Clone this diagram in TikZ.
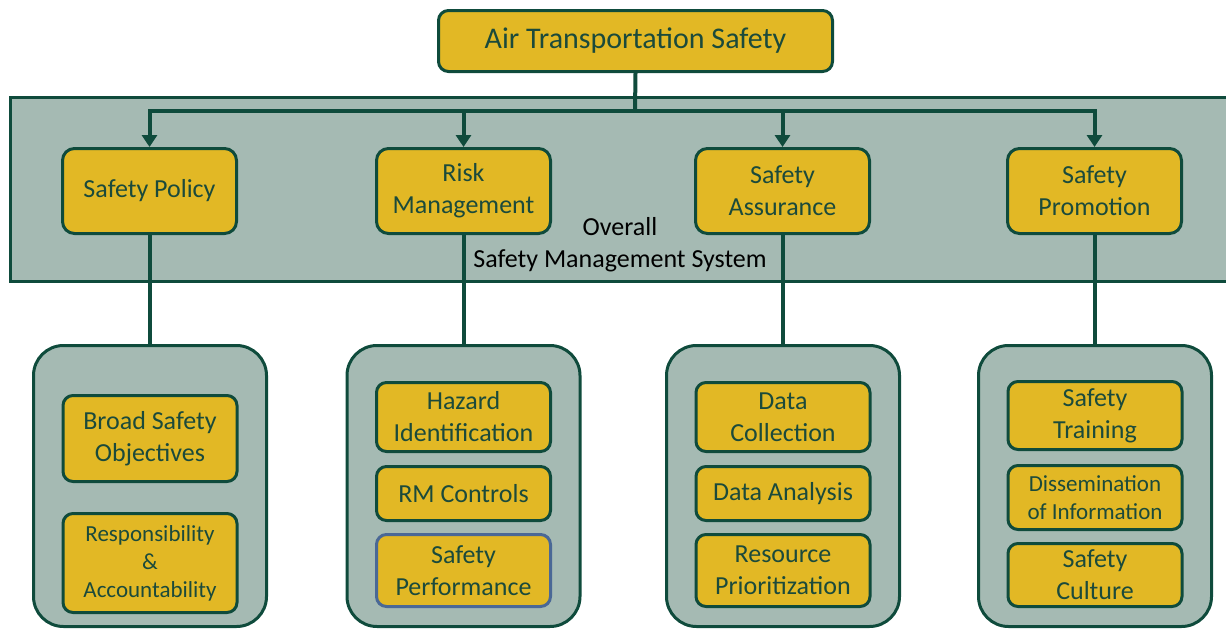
\documentclass[tikz,border=0pt]{standalone}
\usepackage{fontspec}
\setmainfont{Carlito}
\usetikzlibrary{arrows.meta}
\definecolor{gold}{HTML}{E2B825}
\definecolor{dkgreen}{HTML}{0F4B3C}
\definecolor{txtgreen}{HTML}{1B4A3B}
\definecolor{bandgray}{HTML}{A5BAB3}
\definecolor{perfblue}{HTML}{4A6896}
\tikzset{
  box/.style={draw=dkgreen, line width=3pt, fill=gold, rounded corners=12pt,
    text=txtgreen, align=center, inner sep=0pt, minimum width=174pt,
    font=\fontsize{26}{32}\selectfont},
  ibox/.style={box, rounded corners=10pt},
  small/.style={font=\fontsize{23}{28}\selectfont},
  grp/.style={draw=dkgreen, line width=3pt, fill=bandgray, rounded corners=30pt,
    minimum width=233pt, minimum height=281pt, inner sep=0pt},
  conn/.style={draw=dkgreen, line width=4pt},
  arr/.style={conn, -{Triangle[width=15pt,length=12pt]}},
  plain/.style={text=black, font=\fontsize{26}{32}\selectfont, inner sep=0pt, anchor=base}
}
\begin{document}
\begin{tikzpicture}[x=1pt,y=-1pt]
\useasboundingbox (0,0) rectangle (1226,632);
\clip (0,0) rectangle (1226,632);
% band
\draw[draw=dkgreen, line width=3pt, fill=bandgray] (10,97) rectangle (1240,281);
% title
\node[box, rounded corners=10pt, minimum width=394pt, minimum height=61pt,
      font=\fontsize{30}{36}\selectfont] (title) at (635.5,41) {Air Transportation Safety};
% main boxes
\node[box, minimum height=85pt] (sp) at (149.5,191) {Safety Policy};
\node[box, minimum height=85pt] (rm) at (463.5,191) {Risk\\Management};
\node[box, minimum height=85pt] (sa) at (782.5,191) {Safety\\Assurance};
\node[box, minimum height=85pt] (spr) at (1094.5,191) {Safety\\Promotion};
% band label
\node[plain] (ov) at (620,235) {Overall};
\node[plain] (sms) at (620,267) {Safety Management System};
% connectors top
\coordinate (bus) at (635,111);
\draw[conn] (title.south) -- (bus);
\draw[arr] (bus) -| (sp.north);
\draw[arr] (bus) -| (rm.north);
\draw[arr] (bus) -| (sa.north);
\draw[arr] (bus) -| (spr.north);
% groups
\node[grp] (g1) at (150,486) {};
\node[grp] (g2) at (463.5,486) {};
\node[grp] (g3) at (783,486) {};
\node[grp] (g4) at (1095,486) {};
\draw[conn] (sp.south) -- (sp.south |- g1.north);
\draw[conn] (rm.south) -- (rm.south |- g2.north);
\draw[conn] (sa.south) -- (sa.south |- g3.north);
\draw[conn] (spr.south) -- (spr.south |- g4.north);
% group 1
\node[ibox, minimum height=86pt] (bso) at (150,438.5) {Broad Safety\\Objectives};
\node[ibox, small, minimum height=99pt] (ra) at (150,563) {Responsibility\\\&\\Accountability};
% group 2
\node[ibox, minimum height=69pt] (hi) at (463.5,417) {Hazard\\Identification};
\node[ibox, minimum height=54pt] (rmc) at (463.5,493.5) {RM Controls};
\node[ibox, draw=perfblue, minimum height=72pt] (perf) at (463.5,570.5) {Safety\\Performance};
% group 3
\node[ibox, minimum height=69pt] (dc) at (783,417) {Data\\Collection};
\node[ibox, minimum height=54pt] (da) at (783,493.5) {Data Analysis};
\node[ibox, minimum height=72pt] (rp) at (783,570.5) {Resource\\Prioritization};
% group 4
\node[ibox, minimum height=68pt] (st) at (1095,415.5) {Safety\\Training};
\node[ibox, small, minimum height=64pt] (di) at (1095,497.5) {Dissemination\\of Information};
\node[ibox, minimum height=63pt] (sc) at (1095,575) {Safety\\Culture};
\end{tikzpicture}
\end{document}
